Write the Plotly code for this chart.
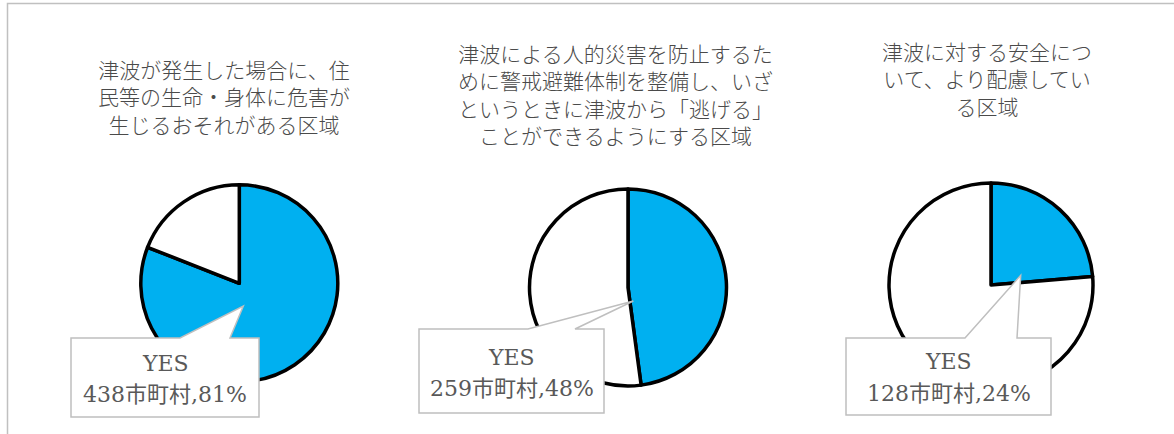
import plotly.graph_objects as go

# Survey categories (tsunami zone designations) and municipality counts
titles = [
    "津波が発生した場合に、住<br>民等の生命・身体に危害が<br>生じるおそれがある区域",
    "津波による人的災害を防止するた<br>めに警戒避難体制を整備し、いざ<br>というときに津波から「逃げる」<br>ことができるようにする区域",
    "津波に対する安全につ<br>いて、より配慮してい<br>る区域",
]
yes_label = "YES"
yes_counts = [438, 259, 128]
no_counts = [103, 282, 413]
unit = "市町村"

W, H = 1174, 434
BLUE = "#00B0F0"

# Layout in pixels: pie centre/radius, title centre, callout box and tail
pies = [
    dict(cx=239.3, cy=283.3, r=98.5, tx=223.5, ty=96,
         box=(71, 338, 259, 417), tail=(180, 230, 243.3, 306), l1=363, l2=394),
    dict(cx=628.0, cy=287.5, r=98.5, tx=615.0, ty=94,
         box=(419, 329, 604, 413), tail=(528, 575, 633.3, 301), l1=357, l2=388),
    dict(cx=991.0, cy=285.0, r=102.0, tx=987.0, ty=78,
         box=(846, 338, 1051, 415), tail=(965, 1017, 1020.7, 275.3), l1=361, l2=393),
]


def px(x):
    return x / W


def py(y):
    return 1 - y / H


fig = go.Figure()
shapes = []
annotations = []

for i, p in enumerate(pies):
    cx, cy, r = p["cx"], p["cy"], p["r"]
    fig.add_trace(go.Pie(
        values=[yes_counts[i], no_counts[i]],
        labels=[yes_label, "NO"],
        sort=False,
        direction="clockwise",
        rotation=0,
        marker=dict(colors=[BLUE, "#FFFFFF"], line=dict(color="#000000", width=3.5)),
        textinfo="none",
        hoverinfo="label+value+percent",
        showlegend=False,
        domain=dict(x=[px(cx - r), px(cx + r)], y=[py(cy + r), py(cy - r)]),
    ))

    annotations.append(dict(
        text=titles[i], x=px(p["tx"]), y=py(p["ty"]), xref="paper", yref="paper",
        xanchor="center", yanchor="middle", showarrow=False, align="center",
        font=dict(family="Noto Sans CJK JP", size=21, color="#4A4A4A", weight=300),
    ))

    # callout box with a pointed tail
    x0, y0, x1, y1 = p["box"]
    ta, tb, tx, ty = p["tail"]
    path = (f"M {px(x0)} {py(y0)} L {px(ta)} {py(y0)} L {px(tx)} {py(ty)} "
            f"L {px(tb)} {py(y0)} L {px(x1)} {py(y0)} L {px(x1)} {py(y1)} "
            f"L {px(x0)} {py(y1)} Z")
    shapes.append(dict(type="path", path=path, xref="paper", yref="paper",
                       fillcolor="#FFFFFF", line=dict(color="#BFBFBF", width=1.5),
                       layer="above"))

    total = yes_counts[i] + no_counts[i]
    pct = round(yes_counts[i] / total * 100)
    bx = (x0 + x1) / 2
    cfont = dict(family="DejaVu Serif, Noto Sans CJK JP", size=22, color="#595959")
    annotations.append(dict(
        text=yes_label, x=px(bx), y=py(p["l1"]), xref="paper", yref="paper",
        xanchor="center", yanchor="middle", showarrow=False, font=cfont,
    ))
    annotations.append(dict(
        text=f"{yes_counts[i]}{unit},{pct}%", x=px(bx), y=py(p["l2"]),
        xref="paper", yref="paper", xanchor="center", yanchor="middle",
        showarrow=False, font=cfont,
    ))

# outer frame (top and left edges visible)
shapes.append(dict(type="path",
                   path=f"M {px(7.5)} {py(H + 5)} L {px(7.5)} {py(3.5)} L {px(W + 5)} {py(3.5)}",
                   xref="paper", yref="paper", line=dict(color="#C0C0C0", width=1.5),
                   layer="above"))

fig.update_layout(
    width=W, height=H,
    margin=dict(l=0, r=0, t=0, b=0),
    paper_bgcolor="#FFFFFF",
    plot_bgcolor="#FFFFFF",
    shapes=shapes,
    annotations=annotations,
)

fig.write_html("out.html")
